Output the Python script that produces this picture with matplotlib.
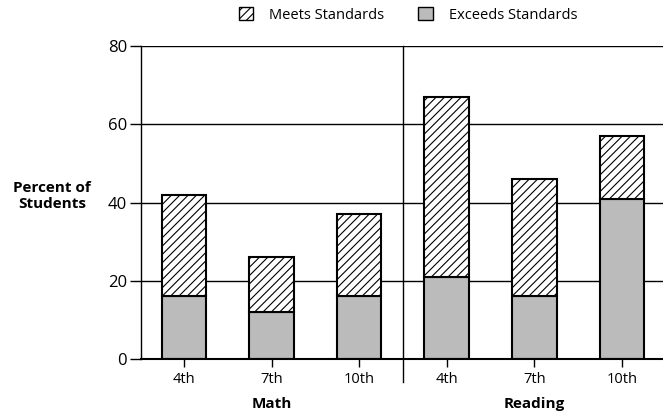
import matplotlib
matplotlib.use('Agg')
import matplotlib.pyplot as plt
from matplotlib.patches import Patch
import numpy as np

# ---- data (percent of students) ----
subjects = ['Math', 'Reading']
grades = ['4th', '7th', '10th', '4th', '7th', '10th']
exceeds = [16, 12, 16, 21, 16, 41]
meets = [26, 14, 21, 46, 30, 16]

GRAY = '#bbbbbb'
plt.rcParams['font.family'] = ['Open Sans', 'DejaVu Sans']
plt.rcParams['hatch.linewidth'] = 0.8

fig = plt.figure(figsize=(6.63, 4.15), dpi=100)
ax = fig.add_axes([141 / 663, 1 - 359 / 415, 522 / 663, 313 / 415])

x = np.arange(len(grades))

# horizontal rules behind the bars
for yv in [20, 40, 60, 80]:
    ax.axhline(yv, color='black', lw=1.0, zorder=0)

ax.bar(x, exceeds, width=0.51, color=GRAY, edgecolor='black', linewidth=1.5, zorder=2)
ax.bar(x, meets, width=0.51, bottom=exceeds, color='white', edgecolor='black',
       hatch='////', linewidth=1.5, zorder=2)

# divider between the two subjects
ax.plot([2.5, 2.5], [-6, 80], color='black', lw=1.0, clip_on=False)

ax.set_xlim(-0.49, 5.47)
ax.set_ylim(0, 80)
ax.set_yticks([0, 20, 40, 60, 80])
ax.set_xticks(x)
ax.set_xticklabels(grades, fontsize=10.5)
ax.tick_params(axis='y', length=8, width=1, labelsize=12, pad=2)
ax.tick_params(axis='x', length=6, width=1, pad=3)

for side in ['top', 'right']:
    ax.spines[side].set_visible(False)
ax.spines['left'].set_linewidth(1.0)
ax.spines['bottom'].set_linewidth(1.5)

# subject labels under each group
for i, name in enumerate(subjects):
    ax.text(3 * i + 1, -11.5, name, ha='center', va='center',
            fontsize=11, fontweight='bold', transform=ax.transData)

fig.text(52 / 663, 1 - 196 / 415, 'Percent of\nStudents', ha='center', va='center',
         fontsize=11, fontweight='bold', linespacing=1.1)

handles = [Patch(facecolor='white', edgecolor='black', hatch='////', linewidth=1.0),
           Patch(facecolor=GRAY, edgecolor='black', linewidth=1.0)]
fig.legend(handles, ['Meets Standards', 'Exceeds Standards'], loc='center',
           bbox_to_anchor=(408 / 663, 1 - 15 / 415), ncol=2, frameon=False,
           fontsize=10.5, handlelength=1.0, handleheight=1.0, handletextpad=1.1,
           columnspacing=2.3)

fig.savefig('out.png', dpi=100)
